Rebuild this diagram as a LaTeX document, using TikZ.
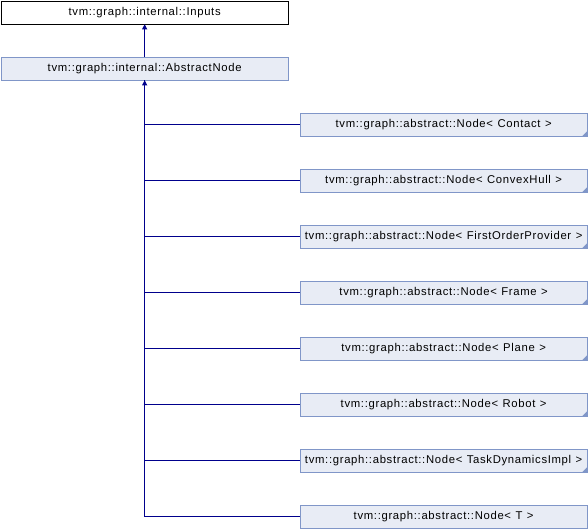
\documentclass[tikz,border=0pt]{standalone}
\usepackage{fontspec}
\setmainfont{Liberation Sans}[LetterSpace=6]
\usetikzlibrary{arrows.meta,calc}
\definecolor{boxfill}{RGB}{232,236,245}
\definecolor{boxdraw}{RGB}{128,150,200}
\definecolor{edge}{RGB}{0,0,140}
\newcommand{\gapsp}{\hspace{4.5pt}}
\begin{document}
\begin{tikzpicture}[x=1pt,y=1pt,
  base/.style={draw, minimum width=287.5pt, minimum height=23pt, inner sep=0pt, font=\fontsize{11.3}{13}\selectfont, line width=0.8pt},
  topbox/.style={base, fill=white, draw=black},
  clsbox/.style={base, fill=boxfill, draw=boxdraw},
  link/.style={draw=edge, line width=0.9pt},
  corner/.style={fill=boxdraw}]
\useasboundingbox (0,0) rectangle (588,-528);
\node[topbox, anchor=north west] (inputs) at (0.5,-0.5) {tvm::graph::internal::Inputs};
\node[clsbox, anchor=north west] (an) at (0.5,-56.5) {tvm::graph::internal::AbstractNode};
\foreach \i/\t in {0/Contact,1/ConvexHull,2/FirstOrderProvider,3/Frame,4/Plane,5/Robot,6/TaskDynamicsImpl,7/T}{
  \node[clsbox, anchor=north west] (c\i) at (299.5,{-112.5-56*\i}) {tvm::graph::abstract::Node<\gapsp\t\gapsp>};
}
\foreach \i in {0,...,6}{
  \fill[corner] ($(c\i.south east)+(-0.4,0.4)$) -- ++(0,5) -- ++(-5,-5) -- cycle;
}
\draw[link, -{Triangle[length=5pt,width=5pt]}] (an.north) -- (inputs.south);
\foreach \i in {0,...,6}{
  \draw[link] (c\i.west) -| (an.south);
}
\draw[link, -{Triangle[length=5pt,width=5pt]}] (c7.west) -| (an.south);
\end{tikzpicture}
\end{document}
